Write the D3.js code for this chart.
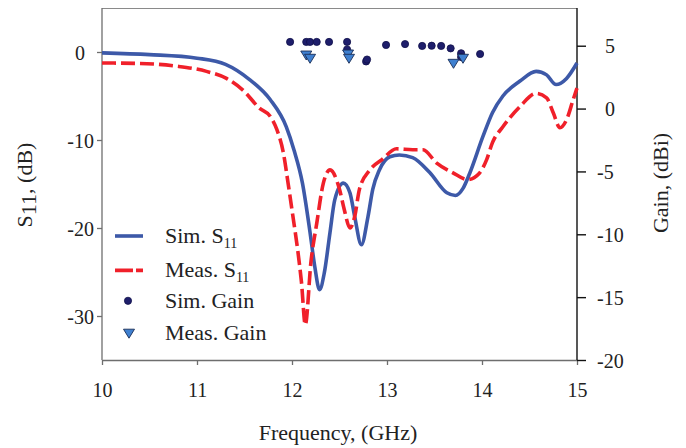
<!DOCTYPE html>
<html><head><meta charset="utf-8">
<script src="https://cdn.jsdelivr.net/npm/d3@7"></script>
<style>body{margin:0;background:#fff}svg{display:block}text{font-family:"Liberation Serif","Times New Roman",serif;fill:#222}</style>
</head><body>
<script>
// ---- data ----
const simFreq = [10.0,10.5,11.0,11.3,11.55,11.77,11.94,12.02,12.11,12.19,12.24,12.29,12.34,12.4,12.45,12.54,12.61,12.66,12.73,12.8,12.85,12.92,13.03,13.13,13.27,13.45,13.63,13.72,13.8,13.87,14.01,14.11,14.22,14.4,14.57,14.68,14.78,14.89,15.0];
const simS11  = [-0.1,-0.3,-0.7,-1.4,-3.1,-5.4,-8.5,-11.1,-14.9,-20.5,-24.4,-27.0,-25.1,-20.5,-16.8,-14.9,-16.0,-18.7,-21.9,-18.7,-15.6,-13.4,-11.9,-11.7,-12.0,-13.7,-16.0,-16.3,-15.5,-13.8,-9.6,-6.9,-5.0,-3.3,-2.2,-2.6,-3.7,-3.0,-1.25];
const measFreq = [10.0,10.4,10.78,11.1,11.31,11.48,11.66,11.77,11.84,11.91,11.96,12.01,12.06,12.1,12.14,12.2,12.26,12.33,12.4,12.5,12.55,12.61,12.66,12.71,12.82,12.95,13.1,13.27,13.38,13.52,13.69,13.85,13.97,14.05,14.11,14.22,14.4,14.57,14.68,14.75,14.82,14.89,14.96,15.0];
const measS11  = [-1.25,-1.3,-1.6,-2.2,-3.0,-4.3,-6.4,-7.3,-8.8,-11.5,-15.0,-18.7,-22.5,-26.2,-31.0,-23.8,-19.5,-14.9,-13.4,-15.6,-17.9,-20.0,-18.7,-15.6,-13.4,-12.2,-11.0,-11.1,-11.1,-12.6,-13.7,-14.5,-13.8,-12.2,-10.3,-8.5,-6.2,-4.7,-5.2,-6.9,-8.6,-7.7,-5.4,-4.1];
const simGainFreq = [11.98,12.15,12.19,12.26,12.39,12.58,12.58,12.78,12.79,12.99,13.19,13.37,13.47,13.57,13.67,13.78,13.78,13.98];
const simGain     = [5.3,5.3,5.3,5.3,5.3,5.3,4.7,3.75,3.9,5.06,5.13,4.98,5.0,4.98,4.79,4.4,4.1,4.34];
const measGainFreq = [12.15,12.19,12.59,12.6,13.7,13.8];
const measGain     = [4.26,4.0,4.34,4.0,3.6,4.0];
const xTicks = [10,11,12,13,14,15];
const yLeftTicks = [0,-10,-20,-30];
const yRightTicks = [5,0,-5,-10,-15,-20];
const legendLabels = [["Sim. S","11"],["Meas. S","11"],["Sim. Gain",""],["Meas. Gain",""]];

// ---- layout ----
const W=686,H=448, L=102, R=577, T=8, B=360;
const svg=d3.select("body").append("svg").attr("width",W).attr("height",H);
const x=d3.scaleLinear().domain([10,15]).range([L,R]);
const yL=d3.scaleLinear().domain([-35,5]).range([B,T]);
const yR=d3.scaleLinear().domain([-20,8]).range([B,T]);
const blue="#3d59a8", red="#f0202a", dot="#1e1e6b", tri="#3f80d0";

// frame top
svg.append("line").attr("x1",L).attr("x2",R).attr("y1",T+0.5).attr("y2",T+0.5).attr("stroke","#8a8a8a").attr("stroke-width",1.2);

// bottom axis
const gx=svg.append("g").attr("transform",`translate(0,${B})`)
  .call(d3.axisBottom(x).tickValues(xTicks).tickSize(5).tickSizeOuter(0).tickFormat(d3.format("d")));
gx.selectAll("path,line").attr("stroke","#6e6e6e").attr("stroke-width",1.3);
gx.selectAll("text").attr("y",37).attr("dy",0).attr("font-size",20).attr("font-family","Liberation Serif").attr("fill","#222");

// left axis
const gl=svg.append("g").attr("transform",`translate(${L},0)`)
  .call(d3.axisLeft(yL).tickValues(yLeftTicks).tickSize(5).tickSizeOuter(0).tickFormat(d3.format("d")));
gl.select("path").attr("d",`M0,${T}V${B}`);
gl.selectAll("path,line").attr("stroke","#6e6e6e").attr("stroke-width",1.3);
gl.selectAll("text").attr("x",d=>d>=0?-17:-8).attr("dy","0.35em").attr("font-size",20).attr("font-family","Liberation Serif").attr("fill","#222");

// right axis
const gr=svg.append("g").attr("transform",`translate(${R},0)`)
  .call(d3.axisRight(yR).tickValues(yRightTicks).tickSize(9).tickSizeOuter(0).tickFormat(d=>d3.format("d")(d).replace("−","-")));
gr.select("path").attr("d",`M0,${T}V${B}`);
gr.selectAll("path,line").attr("stroke","#111").attr("stroke-width",1.4);
gr.selectAll("text").attr("x",d=>d>=0?28:20).attr("dy","0.35em").attr("text-anchor","start").attr("font-size",20).attr("font-family","Liberation Serif").attr("fill","#222");
gl.selectAll("text").text(d=>String(d).replace("−","-"));
gx.selectAll("text").text(d=>String(d));

// axis titles
svg.append("text").attr("x",338).attr("y",440).attr("text-anchor","middle").attr("font-size",22).text("Frequency, (GHz)");
const yt=svg.append("text").attr("transform","translate(32,185) rotate(-90)").attr("text-anchor","middle").attr("font-size",22);
yt.append("tspan").text("S");
yt.append("tspan").attr("dy",4).text("11");
yt.append("tspan").attr("dy",-4).text(", (dB)");
svg.append("text").attr("transform","translate(668,183) rotate(-90)").attr("text-anchor","middle").attr("font-size",22).text("Gain, (dBi)");

// curves
const line=d3.line().curve(d3.curveMonotoneX);
svg.append("path").attr("d",line(simFreq.map((f,i)=>[x(f),yL(simS11[i])])))
  .attr("fill","none").attr("stroke",blue).attr("stroke-width",3.6);
svg.append("path").attr("d",line(measFreq.map((f,i)=>[x(f),yL(measS11[i])])))
  .attr("fill","none").attr("stroke",red).attr("stroke-width",3.6).attr("stroke-dasharray","14,5");

// gain points
svg.append("g").selectAll("circle").data(simGainFreq).join("circle")
  .attr("cx",d=>x(d)).attr("cy",(d,i)=>yR(simGain[i])).attr("r",3.6)
  .attr("fill",dot).attr("stroke","#10104a").attr("stroke-width",0.8);
const triPath=(cx,cy)=>`M${cx-5.5},${cy-4}L${cx+5.5},${cy-4}L${cx},${cy+5}Z`;
svg.append("g").selectAll("path").data(measGainFreq).join("path")
  .attr("d",(d,i)=>triPath(x(d),yR(measGain[i])))
  .attr("fill",tri).attr("stroke","#1a2d55").attr("stroke-width",0.9);

// legend
const lg=svg.append("g");
legendLabels.forEach((lab,i)=>{
  const cy=236+i*32.4 + (i===1?2:0);
  if(i===0) lg.append("line").attr("x1",115).attr("x2",143).attr("y1",cy).attr("y2",cy).attr("stroke",blue).attr("stroke-width",3.6);
  if(i===1) lg.append("line").attr("x1",115).attr("x2",143).attr("y1",cy).attr("y2",cy).attr("stroke",red).attr("stroke-width",3.6).attr("stroke-dasharray","18,3,7,3");
  if(i===2) lg.append("circle").attr("cx",128).attr("cy",cy).attr("r",3.6).attr("fill",dot).attr("stroke","#10104a").attr("stroke-width",0.8);
  if(i===3) lg.append("path").attr("d",triPath(129,cy)).attr("fill",tri).attr("stroke","#1a2d55").attr("stroke-width",0.9);
  const t=lg.append("text").attr("x",165).attr("y",cy+7).attr("font-size",22);
  t.append("tspan").text(lab[0]);
  if(lab[1]) t.append("tspan").attr("dy",5).attr("font-size",14).text(lab[1]);
});
</script>
</body></html>
